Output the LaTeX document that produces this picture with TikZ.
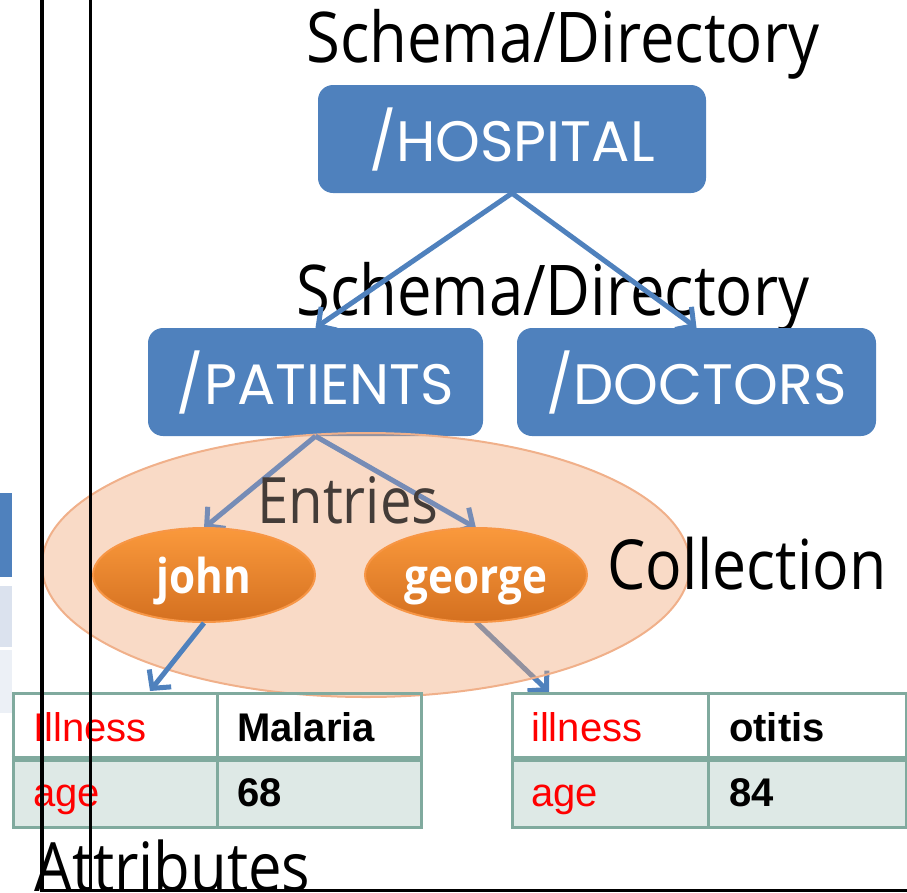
\documentclass[tikz,border=0pt]{standalone}
\usepackage{fontspec}
\setmainfont{Open Sans}[FakeStretch=0.88]
\newfontfamily\boxfont{Poppins}
\newfontfamily\cellfont{Liberation Sans}
\usetikzlibrary{arrows.meta,shapes.geometric}

\definecolor{dirblue}{HTML}{4F81BD}
\definecolor{veiledblue}{RGB}{118,140,182}
\definecolor{tabedge}{RGB}{128,170,158}
\definecolor{tabfill}{RGB}{222,233,230}
\definecolor{colfill}{RGB}{240,168,118}
\definecolor{coledge}{RGB}{240,176,138}
\definecolor{enttop}{RGB}{250,153,60}
\definecolor{entbot}{RGB}{212,112,32}
\definecolor{entedge}{RGB}{247,150,70}
\definecolor{sideA}{RGB}{219,226,238}
\definecolor{sideB}{RGB}{236,240,246}
\definecolor{entrytext}{RGB}{68,60,56}

\tikzset{
  label/.style={inner sep=0pt, anchor=base west, font=\fontsize{70}{80}\selectfont},
  dirbox/.style={fill=dirblue, rounded corners=15pt, inner sep=0pt, text=white,
    minimum height=108pt, font=\boxfont\fontsize{57}{60}\selectfont},
  link/.style={draw=dirblue, line width=5pt,
    -{Straight Barb[length=13pt,width=28pt,line width=5pt]}},
  veiled/.style={link, draw=veiledblue},
  entry/.style={ellipse, draw=entedge, line width=2pt, top color=enttop,
    bottom color=entbot, minimum width=222pt, minimum height=94pt, inner sep=0pt,
    text height=0pt, text depth=0pt,
    text=white, font=\bfseries\fontsize{48}{52}\selectfont},
  cell/.style={draw=tabedge, line width=3pt, minimum width=204pt,
    minimum height=67pt, inner sep=0pt},
  celltext/.style={inner sep=0pt, anchor=base west,
    font=\cellfont\fontsize{40}{44}\selectfont},
  key/.style={celltext, text=red},
  val/.style={celltext, text=black, font=\cellfont\bfseries\fontsize{40}{44}\selectfont},
}

\begin{document}
\begin{tikzpicture}[x=1pt,y=-1pt]
\useasboundingbox (0,0) rectangle (907,892);

% strip of a neighbouring slide at the left edge
\fill[dirblue] (0,493) rectangle (12,577);
\fill[sideA] (0,586) rectangle (12,647);
\fill[sideB] (0,650) rectangle (12,713);

% directory tree
\node[label] (lab1) at (306,62) {Schema/Directory};
\node[dirbox, minimum width=388pt] (hosp) at (512,139) {/HOSPITAL};
\node[label] (lab2) at (296,315) {Schema/Directory};
\node[dirbox, minimum width=335pt] (pat) at (315.5,382) {/PATIENTS};
\node[dirbox, minimum width=359pt] (doc) at (696.5,382) {/DOCTORS};
\draw[link] (hosp.south) -- (pat.north);
\draw[link] (hosp.south) -- (doc.north);

\coordinate (jtop) at (204,528);
\coordinate (gtop) at (476,528);
\coordinate (t1in) at (150,691);
\coordinate (t2in) at (549,692);
\coordinate (gbot) at (476,622);
\draw[link] (gbot) -- (t2in);

% the collection, a translucent veil over its entries
\node[ellipse, fill=colfill, fill opacity=0.42, draw=coledge, line width=2pt,
  minimum width=648pt, minimum height=264pt, inner sep=0pt] (coll) at (366,565) {};
\draw[veiled] (pat.south) -- (jtop);
\draw[veiled] (pat.south) -- (gtop);
\node[label, text=entrytext, font=\fontsize{64}{70}\selectfont] (entl) at (257,523) {Entries};

\node[entry] (john) at (204,575) {\raisebox{-18pt}{john}};
\node[entry] (george) at (476,575) {\raisebox{-18pt}{george}};
\draw[link] (john.south) -- (t1in);

% attribute tables
\node[cell] (a11) at (115,726.5) {};
\node[cell] (a12) at (319,726.5) {};
\node[cell, fill=tabfill] (a21) at (115,793.5) {};
\node[cell, fill=tabfill] (a22) at (319,793.5) {};
\draw[tabedge, line width=4.5pt] (a21.north west) -- (a22.north east);
\node[key] at (33,741) {Illness};
\node[val] at (237,741) {Malaria};
\node[key] at (33,806) {age};
\node[val] at (237,806) {68};

\node[cell, minimum width=196pt] (b11) at (610,726.5) {};
\node[cell, minimum width=198pt] (b12) at (807,726.5) {};
\node[cell, minimum width=196pt, fill=tabfill] (b21) at (610,793.5) {};
\node[cell, minimum width=198pt, fill=tabfill] (b22) at (807,793.5) {};
\draw[tabedge, line width=4.5pt] (b21.north west) -- (b22.north east);
\node[key] at (531,741) {illness};
\node[val] at (729,741) {otitis};
\node[key] at (531,806) {age};
\node[val] at (729,806) {84};

% captions
\node[label, font=\fontsize{69}{76}\selectfont] (collab) at (607,589) {Collection};
\node[label, font=\fontsize{68}{76}\selectfont] (attlab) at (34,891) {Attributes};

% rules across the page
\draw[black, line width=3.5pt] (42,0) -- (42,892);
\draw[black, line width=3pt] (90.5,0) -- (90.5,892);
\draw[black, line width=3pt] (42,890) -- (907,890);
\end{tikzpicture}
\end{document}
